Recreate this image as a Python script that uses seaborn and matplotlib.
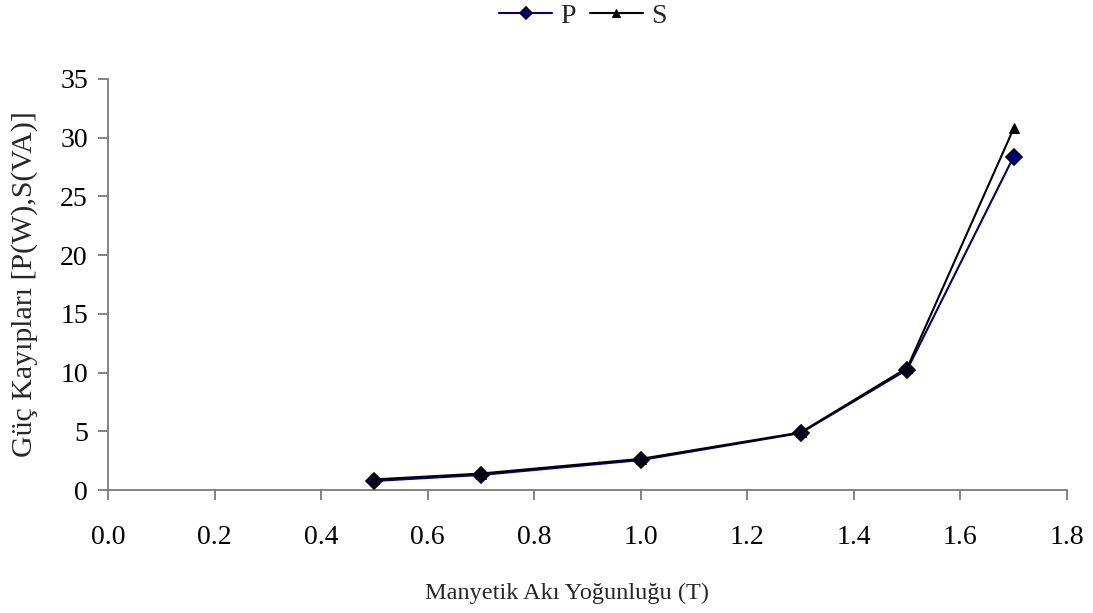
import matplotlib
matplotlib.use("Agg")
import matplotlib.pyplot as plt
import seaborn as sns

flux = [0.5, 0.7, 1.0, 1.3, 1.5, 1.7]
p_loss = [0.77, 1.28, 2.55, 4.85, 10.25, 28.4]
s_loss = [0.9, 1.4, 2.65, 4.9, 10.4, 30.8]
x_ticks = [0.0, 0.2, 0.4, 0.6, 0.8, 1.0, 1.2, 1.4, 1.6, 1.8]
y_ticks = [0, 5, 10, 15, 20, 25, 30, 35]

sns.set_theme(style="white")
plt.rcParams['font.family'] = ['Liberation Serif', 'DejaVu Serif']

fig = plt.figure(figsize=(10.93, 6.13), dpi=100)
ax = fig.add_axes([108/1093, 1 - 490/613, (1067-108)/1093, (490-79)/613])

sns.lineplot(x=flux, y=p_loss, ax=ax, color="#000080", lw=1.5, marker="D",
             markersize=8.5, markerfacecolor="#000080", markeredgecolor="black",
             markeredgewidth=1.2, label="P", zorder=3)
sns.lineplot(x=flux, y=s_loss, ax=ax, color="black", lw=1.5, marker="^",
             markersize=7, markerfacecolor="black", markeredgecolor="black",
             label="S", zorder=4)

ax.set_xlim(0, 1.8)
ax.set_ylim(0, 35)
ax.set_xticks(x_ticks)
ax.set_xticklabels([f"{v:.1f}" for v in x_ticks])
ax.set_yticks(y_ticks)
for s in ["top", "right"]:
    ax.spines[s].set_visible(False)
for s in ["left", "bottom"]:
    ax.spines[s].set_color("#7a7a7a")
    ax.spines[s].set_linewidth(1.3)
ax.tick_params(axis="both", which="both", direction="out", length=7, width=1.3,
               color="#7a7a7a", labelsize=20, labelcolor="black",
               bottom=True, left=True)
ax.tick_params(axis="x", pad=18.5)
ax.tick_params(axis="y", pad=7.5)
ax.set_xlabel("Manyetik Akı Yoğunluğu (T)", fontsize=17.5, va="center")
ax.set_ylabel("Güç Kayıpları [P(W),S(VA)]", fontsize=21.5, va="center")
ax.xaxis.set_label_coords((567 - 108) / 959, (490 - 593) / 411)
ax.yaxis.set_label_coords((25 - 108) / 959, 0.5)

ax.legend(loc="center", bbox_to_anchor=((583 - 108) / 959, 1 + (79 - 16) / 411),
          ncol=2, frameon=False, fontsize=20, handlelength=1.9,
          handletextpad=0.3, columnspacing=0.5, markerscale=0.75,
          borderpad=0, borderaxespad=0)

fig.savefig("out.png", dpi=100)
